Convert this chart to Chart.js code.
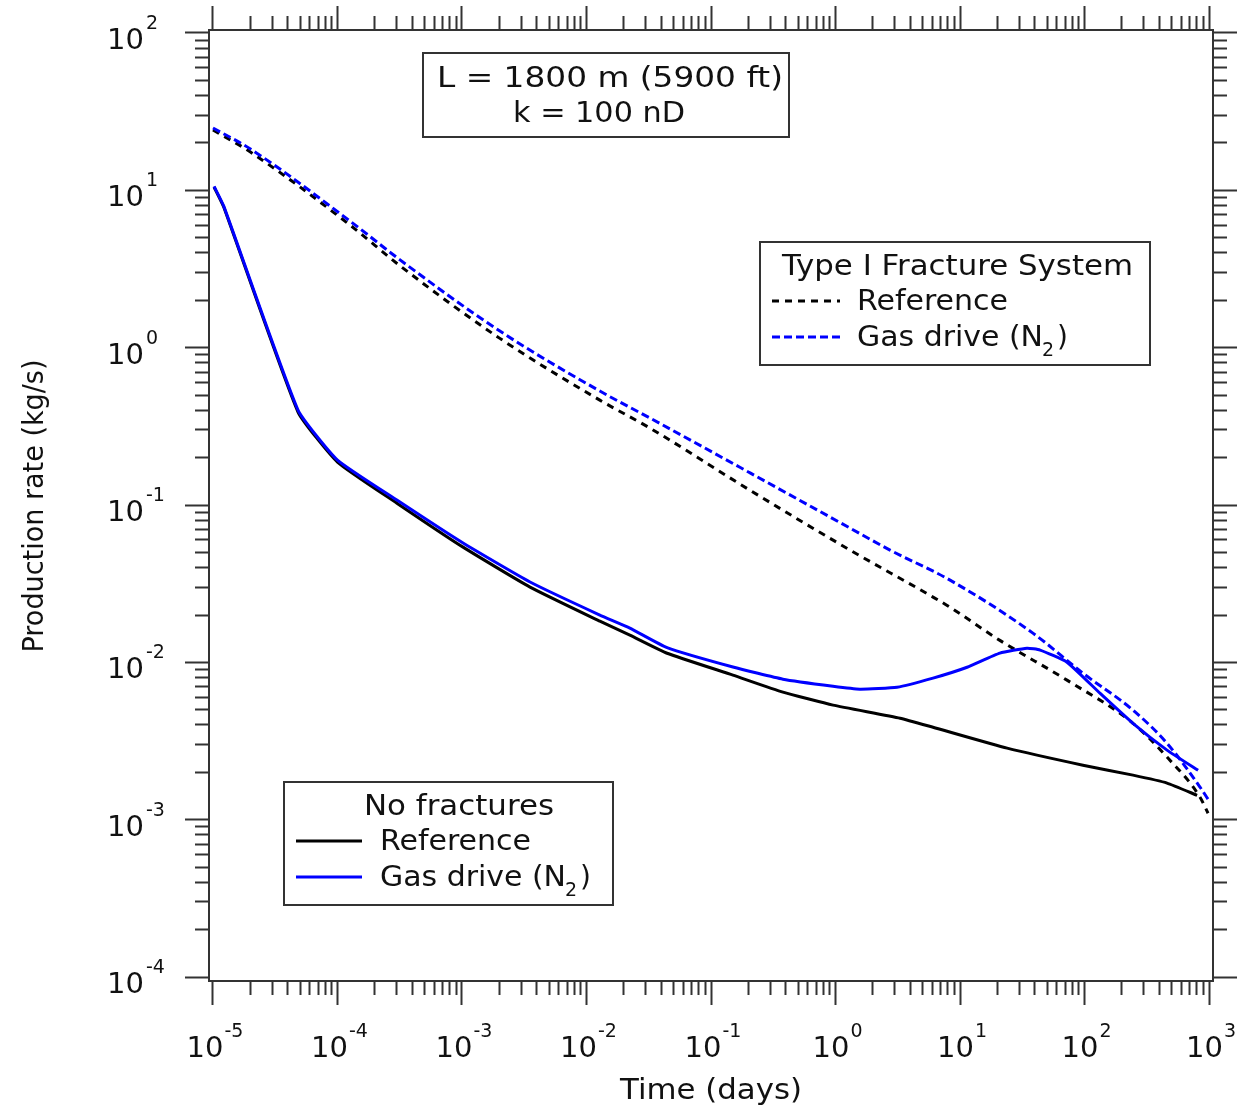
<!DOCTYPE html>
<html lang="en">
<head>
<meta charset="UTF-8">
<title>Production rate vs time</title>
<script src="https://cdn.jsdelivr.net/npm/chart.js@4"></script>
<style>
  html, body { margin: 0; padding: 0; background: #fff; }
  #wrap { position: relative; width: 1249px; height: 1108px; }
  #chart { position: absolute; left: 0; top: 0; }
  #overlay { position: absolute; left: 0; top: 0; pointer-events: none; }
  #overlay text { font-family: "DejaVu Sans", sans-serif; fill: #111; }
</style>
</head>
<body>
<div id="wrap">
  <canvas id="chart" width="1249" height="1108"></canvas>
  <svg id="overlay" width="1249" height="1108">
    <!-- parameter box -->
    <rect x="423" y="53" width="366" height="84" fill="#fff" stroke="#333" stroke-width="2"/>
    <text x="437" y="87" font-size="28" textLength="346" lengthAdjust="spacingAndGlyphs">L = 1800 m (5900 ft)</text>
    <text x="513" y="122" font-size="28" textLength="172" lengthAdjust="spacingAndGlyphs">k = 100 nD</text>

    <!-- legend: fractured case -->
    <rect x="760" y="242" width="390" height="123" fill="#fff" stroke="#333" stroke-width="2"/>
    <text x="782" y="275" font-size="28" textLength="351" lengthAdjust="spacingAndGlyphs">Type I Fracture System</text>
    <line x1="772" y1="301" x2="840" y2="301" stroke="#000" stroke-width="3" stroke-dasharray="7 6"/>
    <text x="857" y="310" font-size="28" textLength="151" lengthAdjust="spacingAndGlyphs">Reference</text>
    <line x1="772" y1="337" x2="840" y2="337" stroke="#0000ff" stroke-width="3" stroke-dasharray="8 4"/>
    <text x="857" y="346" font-size="28" textLength="186" lengthAdjust="spacingAndGlyphs">Gas drive (N</text>
    <text x="1042" y="356" font-size="19">2</text>
    <text x="1057" y="346" font-size="28">)</text>

    <!-- legend: no fractures -->
    <rect x="284" y="782" width="329" height="123" fill="#fff" stroke="#333" stroke-width="2"/>
    <text x="364" y="815" font-size="28" textLength="190" lengthAdjust="spacingAndGlyphs">No fractures</text>
    <line x1="296" y1="841" x2="362" y2="841" stroke="#000" stroke-width="3"/>
    <text x="380" y="850" font-size="28" textLength="151" lengthAdjust="spacingAndGlyphs">Reference</text>
    <line x1="296" y1="877" x2="362" y2="877" stroke="#0000ff" stroke-width="3"/>
    <text x="380" y="886" font-size="28" textLength="186" lengthAdjust="spacingAndGlyphs">Gas drive (N</text>
    <text x="565" y="896" font-size="19">2</text>
    <text x="580" y="886" font-size="28">)</text>

    <!-- axis titles -->
    <text x="620" y="1099" font-size="29" textLength="182" lengthAdjust="spacingAndGlyphs">Time (days)</text>
    <text transform="translate(43,506) rotate(-90)" text-anchor="middle" font-size="28" textLength="293" lengthAdjust="spacingAndGlyphs">Production rate (kg/s)</text>
  </svg>
</div>

<script>
// Type I fracture system (dashed lines)
const timeFracRef = [1e-5, 2e-5, 1.26e-4, 3.2e-4, 2.0e-3, 0.0128, 0.0324, 0.206, 1.31, 6.07, 8.32, 20.9, 72.3, 245, 460, 847, 982];
const rateFracRef = [24.2, 17.5, 6.02, 3.30, 1.15, 0.464, 0.308, 0.124, 0.0517, 0.0260, 0.0224, 0.0138, 0.00771, 0.00410, 0.00250, 0.00139, 0.00110];

const timeFracGas = [1e-5, 2e-5, 1.26e-4, 3.2e-4, 2.0e-3, 0.0128, 0.0324, 0.206, 1.31, 2.74, 8.32, 38.5, 97.2, 245, 460, 847, 1020];
const rateFracGas = [24.9, 18.3, 6.38, 3.60, 1.28, 0.530, 0.357, 0.160, 0.0713, 0.0517, 0.0333, 0.01534, 0.00853, 0.00497, 0.00306, 0.00161, 0.00129];

// No fractures (solid lines)
const timeNoFracRef = [1.02e-5, 1.22e-5, 4.82e-5, 1.0e-4, 3.0e-4, 1.02e-3, 3.52e-3, 0.0128, 0.0223, 0.0444, 0.150, 0.378, 0.955, 3.30, 6.07, 23.9, 97.2, 245, 460, 802];
const rateNoFracRef = [10.5, 7.83, 0.390, 0.1875, 0.1028, 0.0540, 0.0301, 0.01828, 0.01489, 0.01143, 0.00830, 0.00647, 0.00535, 0.00442, 0.00387, 0.00285, 0.00222, 0.00192, 0.00171, 0.00143];

const timeNoFracGas = [1.02e-5, 1.22e-5, 4.82e-5, 1.0e-4, 3.0e-4, 1.02e-3, 3.52e-3, 0.0128, 0.0223, 0.0444, 0.150, 0.378, 0.955, 1.57, 3.12, 6.07, 11.4, 20.9, 34.5, 44.0, 72.3, 133, 245, 460, 817];
const rateNoFracGas = [10.6, 7.94, 0.401, 0.193, 0.1075, 0.0573, 0.0324, 0.01997, 0.01651, 0.01241, 0.00934, 0.00782, 0.00705, 0.00676, 0.00695, 0.00794, 0.00931, 0.01144, 0.01231, 0.01197, 0.01003, 0.00637, 0.00410, 0.00277, 0.00206];

// tick labels (powers of ten)
const xTickExponents = [-5, -4, -3, -2, -1, 0, 1, 2, 3];
const yTickExponents = [-4, -3, -2, -1, 0, 1, 2];

// axis limits: the frame sits a few pixels outside the first/last decade
const X_MIN = Math.pow(10, -5.032);
const X_MAX = Math.pow(10, 3.032);
const Y_MIN = Math.pow(10, -4.025);
const Y_MAX = Math.pow(10, 2.019);

const AXIS_COLOR = '#333';
const TICK_LEN = 24;
const MINOR_LEN = 13;
const BASE_FONT = '29px "DejaVu Sans"';
const EXP_FONT = '19px "DejaVu Sans"';

function toPoints(xs, ys) {
  return xs.map((x, i) => ({ x: x, y: ys[i] }));
}

function isDecade(v) {
  const l = Math.log10(v);
  return Math.abs(l - Math.round(l)) < 1e-9;
}

// major ticks at every decade, minor ticks 2..9
function buildLogTicks(exps, min, max) {
  const ticks = [];
  for (let i = 0; i < exps.length; i++) {
    const base = Math.pow(10, exps[i]);
    ticks.push({ value: base, major: true });
    if (i < exps.length - 1) {
      for (let m = 2; m <= 9; m++) ticks.push({ value: m * base, major: false });
    }
  }
  return ticks.filter(t => t.value >= min && t.value <= max);
}

// tick marks point outward; minor ones are shortened with a dash pattern
function tickDash(outerFirst) {
  return (ctx) => {
    if (!ctx.tick || isDecade(ctx.tick.value)) return [];
    return outerFirst ? [0, TICK_LEN - 1 - MINOR_LEN, MINOR_LEN, 200] : [MINOR_LEN, 200];
  };
}

function axis(position, isX, exps, min, max) {
  return {
    type: 'logarithmic',
    position: position,
    min: min,
    max: max,
    afterBuildTicks: (s) => { s.ticks = buildLogTicks(exps, min, max); },
    afterFit: (s) => {
      if (isX) s.height = TICK_LEN; else s.width = TICK_LEN;
    },
    ticks: { display: false },
    grid: {
      display: true,
      drawOnChartArea: false,
      drawTicks: true,
      tickLength: TICK_LEN,
      tickWidth: 2,
      tickColor: AXIS_COLOR,
      tickBorderDash: tickDash(position === 'top' || position === 'left')
    },
    border: { display: true, color: AXIS_COLOR, width: 2 }
  };
}

const tickLabelPlugin = {
  id: 'tickLabels',
  afterDraw(chart) {
    const { ctx, chartArea } = chart;
    const xs = chart.scales.x;
    const ys = chart.scales.y;
    ctx.save();
    ctx.fillStyle = '#111';
    ctx.textAlign = 'left';
    ctx.textBaseline = 'alphabetic';
    xTickExponents.forEach(e => {
      const px = xs.getPixelForValue(Math.pow(10, e));
      ctx.font = BASE_FONT;
      const wb = ctx.measureText('10').width;
      ctx.font = EXP_FONT;
      const we = ctx.measureText(String(e)).width;
      const left = px + 2 - (wb + 1 + we) / 2;
      ctx.font = BASE_FONT;
      ctx.fillText('10', left, chartArea.bottom + 76);
      ctx.font = EXP_FONT;
      ctx.fillText(String(e), left + wb + 1, chartArea.bottom + 56);
    });
    yTickExponents.forEach(e => {
      const py = ys.getPixelForValue(Math.pow(10, e));
      const left = chartArea.left - 102;
      ctx.font = BASE_FONT;
      const wb = ctx.measureText('10').width;
      ctx.fillText('10', left, py + 16);
      ctx.font = EXP_FONT;
      ctx.fillText(String(e), left + wb + 2, py - 4);
    });
    ctx.restore();
  }
};

// solid curves: light bezier smoothing keeps the early kinks fairly sharp
const solidLine = {
  pointRadius: 0,
  borderWidth: 3,
  fill: false,
  tension: 0.15,
  borderJoinStyle: 'round'
};
const dashedLine = {
  pointRadius: 0,
  borderWidth: 3,
  fill: false,
  cubicInterpolationMode: 'monotone'
};

new Chart(document.getElementById('chart'), {
  type: 'line',
  data: {
    datasets: [
      Object.assign({}, solidLine, { label: 'No fractures - Gas drive (N2)', data: toPoints(timeNoFracGas, rateNoFracGas), borderColor: '#0000ff', order: 0 }),
      Object.assign({}, dashedLine, { label: 'Type I - Gas drive (N2)', data: toPoints(timeFracGas, rateFracGas), borderColor: '#0000ff', borderDash: [8, 4], order: 1 }),
      Object.assign({}, solidLine, { label: 'No fractures - Reference', data: toPoints(timeNoFracRef, rateNoFracRef), borderColor: '#000', order: 2 }),
      Object.assign({}, dashedLine, { label: 'Type I - Reference', data: toPoints(timeFracRef, rateFracRef), borderColor: '#000', borderDash: [7, 6], order: 3 })
    ]
  },
  options: {
    responsive: false,
    animation: false,
    parsing: false,
    layout: { padding: { left: 185, right: 12, top: 6, bottom: 103 } },
    plugins: { legend: { display: false }, tooltip: { enabled: false } },
    scales: {
      x: axis('bottom', true, xTickExponents, X_MIN, X_MAX),
      x2: axis('top', true, xTickExponents, X_MIN, X_MAX),
      y: axis('left', false, yTickExponents, Y_MIN, Y_MAX),
      y2: axis('right', false, yTickExponents, Y_MIN, Y_MAX)
    }
  },
  plugins: [tickLabelPlugin]
});
</script>
</body>
</html>
